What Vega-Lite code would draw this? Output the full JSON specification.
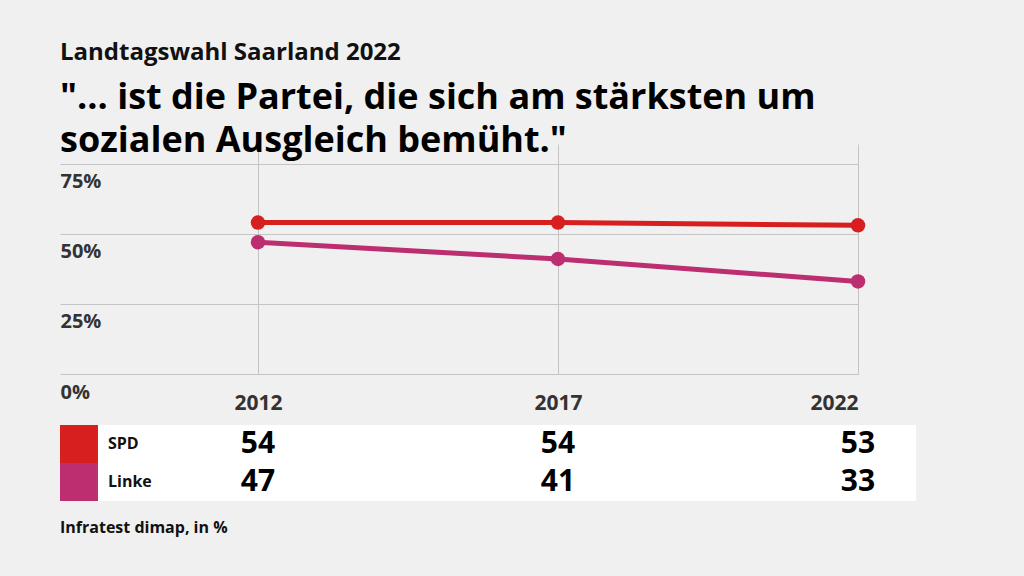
{
  "$schema": "https://vega.github.io/schema/vega-lite/v6.json",
  "background": "#f0f0f0",
  "padding": {"left": 60, "top": 41, "right": 108, "bottom": 40},
  "config": {
    "font": "Open Sans",
    "view": {"stroke": null},
    "concat": {"spacing": 12}
  },
  "title": {
    "text": "Landtagswahl Saarland 2022",
    "subtitle": ["\"... ist die Partei, die sich am stärksten um", "sozialen Ausgleich bemüht.\""],
    "anchor": "start",
    "frame": "group",
    "font": "Open Sans",
    "fontSize": 24,
    "fontWeight": "bold",
    "color": "#111111",
    "subtitleFont": "Open Sans",
    "subtitleFontSize": 36,
    "subtitleFontWeight": "bold",
    "subtitleColor": "#000000",
    "subtitleLineHeight": 43,
    "subtitlePadding": 16,
    "offset": -15
  },
  "datasets": {
    "poll": [
      {"year": 2012, "party": "SPD", "value": 54},
      {"year": 2017, "party": "SPD", "value": 54},
      {"year": 2022, "party": "SPD", "value": 53},
      {"year": 2012, "party": "Linke", "value": 47},
      {"year": 2017, "party": "Linke", "value": 41},
      {"year": 2022, "party": "Linke", "value": 33}
    ]
  },
  "vconcat": [
    {
      "width": 798,
      "height": 230,
      "data": {"name": "poll"},
      "encoding": {
        "x": {
          "field": "year",
          "type": "quantitative",
          "scale": {"domain": [2008.7, 2022], "nice": false, "zero": false},
          "axis": {
            "title": null,
            "values": [2012, 2017, 2022],
            "format": "d",
            "grid": true,
            "gridColor": "#c4c4c4",
            "gridWidth": 1,
            "domain": false,
            "ticks": false,
            "labelPadding": 18,
            "labelFontSize": 21,
            "labelFontWeight": "bold",
            "labelColor": "#333333",
            "labelFont": "Open Sans"
          }
        },
        "y": {
          "field": "value",
          "type": "quantitative",
          "scale": {"domain": [0, 82], "nice": false},
          "axis": {
            "title": null,
            "values": [0, 25, 50, 75],
            "labelExpr": "datum.value + '%'",
            "grid": true,
            "gridColor": "#c4c4c4",
            "gridWidth": 1,
            "domain": false,
            "ticks": false,
            "labelAlign": "left",
            "labelBaseline": "top",
            "labelPadding": 0,
            "labelOffset": 8,
            "labelFontSize": 20,
            "labelFontWeight": "bold",
            "labelColor": "#333333",
            "labelFont": "Open Sans"
          }
        },
        "color": {
          "field": "party",
          "type": "nominal",
          "scale": {"domain": ["SPD", "Linke"], "range": ["#d71f1f", "#bd2e70"]},
          "legend": null
        }
      },
      "layer": [
        {"mark": {"type": "line", "strokeWidth": 5}},
        {"mark": {"type": "circle", "size": 210, "opacity": 1}}
      ]
    },
    {
      "width": 856,
      "height": 76,
      "data": {"name": "poll"},
      "view": {"fill": "white", "stroke": null},
      "title": {
        "text": "Infratest dimap, in %",
        "orient": "bottom",
        "anchor": "start",
        "fontSize": 16,
        "fontWeight": "bold",
        "color": "#111111",
        "font": "Open Sans",
        "offset": 19
      },
      "encoding": {
        "y": {
          "field": "party",
          "type": "nominal",
          "scale": {"domain": ["SPD", "Linke"], "paddingInner": 0, "paddingOuter": 0},
          "axis": null
        }
      },
      "layer": [
        {
          "transform": [{"filter": "datum.year == 2012"}],
          "mark": {"type": "rect"},
          "encoding": {
            "x": {"datum": 2008.7, "type": "quantitative", "scale": {"domain": [2008.7, 2022.967], "nice": false, "zero": false}, "axis": null},
            "x2": {"datum": 2009.333},
            "color": {
              "field": "party",
              "type": "nominal",
              "scale": {"domain": ["SPD", "Linke"], "range": ["#d71f1f", "#bd2e70"]},
              "legend": null
            }
          }
        },
        {
          "transform": [{"filter": "datum.year == 2012"}],
          "mark": {"type": "text", "align": "left", "baseline": "middle", "fontSize": 16, "fontWeight": "bold", "color": "#111111", "font": "Open Sans"},
          "encoding": {
            "x": {"datum": 2009.5, "type": "quantitative"},
            "text": {"field": "party"}
          }
        },
        {
          "mark": {"type": "text", "align": "center", "baseline": "middle", "fontSize": 30, "fontWeight": "bold", "color": "#000000", "font": "Open Sans"},
          "encoding": {
            "x": {"field": "year", "type": "quantitative"},
            "text": {"field": "value"}
          }
        }
      ]
    }
  ]
}
